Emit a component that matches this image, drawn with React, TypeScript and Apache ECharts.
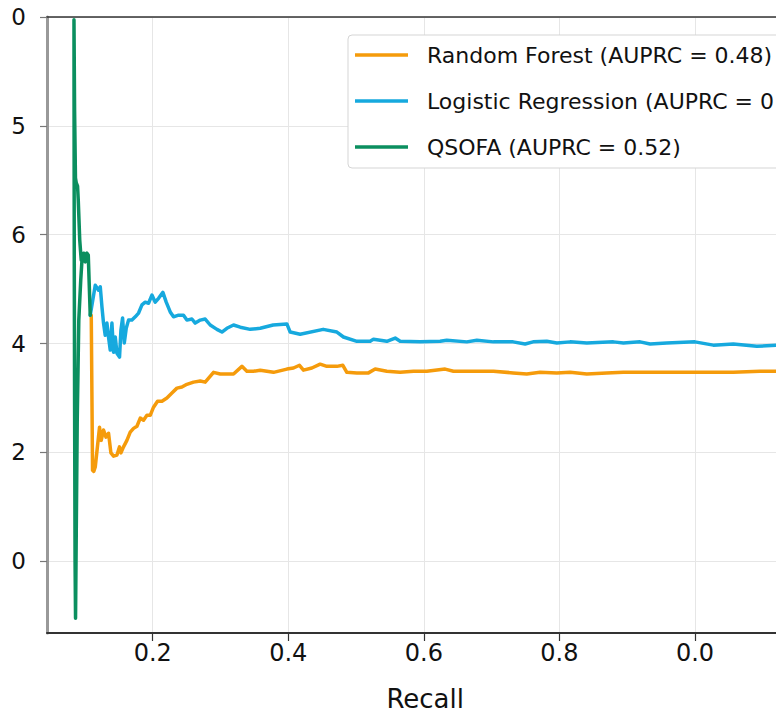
import React, { useEffect, useRef } from "react";
import * as echarts from "echarts";

const seriesNames = [
  "Random Forest (AUPRC = 0.48)",
  "Logistic Regression (AUPRC = 0",
  "QSOFA (AUPRC = 0.52)",
];
const seriesColors = ["#F59B0B", "#16A9DE", "#0B8F5F"];

const recallTicks = [0.2, 0.4, 0.6, 0.8, 1.0];
const recallTickLabels = ["0.2", "0.4", "0.6", "0.8", "0.0"];
const precisionTicks = [0, 0.2, 0.4, 0.6, 0.8, 1.0];
const precisionTickLabels = ["0", "2", "4", "6", "5", "0"];

// [recall, precision]
const rfCurve = [
  [0.1093, 0.452], [0.1112, 0.167], [0.113, 0.165], [0.1152, 0.173], [0.1215, 0.246],
  [0.124, 0.222], [0.1274, 0.241], [0.131, 0.228], [0.1348, 0.235], [0.1383, 0.199],
  [0.1422, 0.193], [0.1472, 0.195], [0.151, 0.21], [0.1531, 0.199], [0.1569, 0.21],
  [0.1619, 0.222], [0.1668, 0.237], [0.1717, 0.244], [0.1767, 0.248], [0.1816, 0.263],
  [0.1864, 0.259], [0.1914, 0.268], [0.1963, 0.268], [0.2012, 0.283], [0.2071, 0.294],
  [0.2136, 0.294], [0.2209, 0.3], [0.2283, 0.309], [0.2357, 0.318], [0.2431, 0.32],
  [0.2504, 0.325], [0.2602, 0.329], [0.2701, 0.331], [0.2774, 0.329], [0.2897, 0.347],
  [0.2996, 0.344], [0.3192, 0.344], [0.3316, 0.358], [0.3389, 0.349], [0.3487, 0.349],
  [0.3586, 0.351], [0.3782, 0.347], [0.3979, 0.353], [0.4077, 0.355], [0.4165, 0.36],
  [0.4224, 0.351], [0.4348, 0.355], [0.447, 0.362], [0.4569, 0.358], [0.4717, 0.358],
  [0.4805, 0.36], [0.4864, 0.347], [0.5012, 0.346], [0.5183, 0.346], [0.5282, 0.353],
  [0.5454, 0.349], [0.565, 0.347], [0.5847, 0.349], [0.6044, 0.349], [0.6314, 0.353],
  [0.6437, 0.349], [0.6732, 0.349], [0.7027, 0.349], [0.7317, 0.346], [0.7519, 0.344],
  [0.7715, 0.347], [0.7962, 0.346], [0.8158, 0.347], [0.8404, 0.344], [0.8699, 0.346],
  [0.8944, 0.347], [0.919, 0.347], [0.9485, 0.347], [0.9681, 0.347], [0.9976, 0.347],
  [1.0174, 0.347], [1.0566, 0.347], [1.096, 0.349], [1.1255, 0.349], [1.16, 0.349],
];

const lrCurve = [
  [0.1078, 0.452], [0.1152, 0.507], [0.1201, 0.498], [0.1226, 0.504], [0.1251, 0.467],
  [0.1274, 0.4375], [0.1299, 0.415], [0.1324, 0.4375], [0.1348, 0.412], [0.1373, 0.388],
  [0.1398, 0.4375], [0.1422, 0.384], [0.1447, 0.412], [0.1472, 0.382], [0.151, 0.375],
  [0.1531, 0.425], [0.1555, 0.447], [0.158, 0.401], [0.1609, 0.428], [0.1643, 0.443],
  [0.1693, 0.443], [0.1742, 0.449], [0.1791, 0.456], [0.1841, 0.471], [0.1889, 0.476],
  [0.1938, 0.474], [0.1988, 0.489], [0.2037, 0.476], [0.2086, 0.483], [0.215, 0.494],
  [0.2199, 0.476], [0.2258, 0.458], [0.2307, 0.449], [0.2381, 0.452], [0.2454, 0.452],
  [0.2504, 0.443], [0.2578, 0.445], [0.2627, 0.4375], [0.2701, 0.443], [0.2774, 0.445],
  [0.2848, 0.434], [0.2947, 0.426], [0.3021, 0.421], [0.3094, 0.428], [0.3192, 0.434],
  [0.3291, 0.43], [0.3438, 0.426], [0.3586, 0.428], [0.3777, 0.434], [0.3979, 0.436],
  [0.4028, 0.421], [0.4175, 0.417], [0.4515, 0.426], [0.4717, 0.421], [0.4814, 0.412],
  [0.5012, 0.404], [0.5208, 0.404], [0.5257, 0.408], [0.5454, 0.404], [0.5577, 0.41],
  [0.565, 0.404], [0.5945, 0.403], [0.624, 0.404], [0.6339, 0.406], [0.6634, 0.403],
  [0.6782, 0.406], [0.7027, 0.403], [0.7317, 0.403], [0.7494, 0.399], [0.7612, 0.403],
  [0.7814, 0.404], [0.7962, 0.401], [0.8158, 0.403], [0.8404, 0.401], [0.8796, 0.403],
  [0.8944, 0.401], [0.919, 0.403], [0.9338, 0.399], [0.9584, 0.401], [1.0, 0.403],
  [1.0271, 0.397], [1.0566, 0.399], [1.0912, 0.395], [1.1255, 0.397], [1.16, 0.397],
];

const qsofaCurve = [
  [0.1078, 0.452], [0.1049, 0.5625], [0.1027, 0.566], [0.1004, 0.55], [0.0982, 0.566],
  [0.096, 0.561], [0.0938, 0.517], [0.0909, 0.443], [0.0886, 0.259], [0.0872, 0.057],
  [0.0861, -0.105], [0.0854, 0.002], [0.0847, 0.296], [0.0842, 0.572], [0.0839, 0.847],
  [0.0838, 0.995], [0.0847, 0.829], [0.086, 0.704], [0.0872, 0.695], [0.0891, 0.689],
  [0.0901, 0.664], [0.0923, 0.59], [0.0945, 0.553],
];

const curves = [rfCurve, lrCurve, qsofaCurve];

const FONT = "DejaVu Sans";

function pick(ticks: number[], labels: string[], v: number) {
  const i = ticks.findIndex((t) => Math.abs(t - v) < 1e-6);
  return i >= 0 ? labels[i] : "";
}

export default function App() {
  const ref = useRef<HTMLDivElement>(null);
  useEffect(() => {
    if (!ref.current) return;
    const chart = echarts.init(ref.current, undefined, { renderer: "svg" });
    chart.setOption({
      animation: false,
      backgroundColor: "#ffffff",
      grid: { left: 47, top: 17, right: 16.6, bottom: 82, outerBoundsMode: "none", containLabel: false },
      legend: {
        orient: "vertical",
        left: 348,
        top: 35,
        padding: [8, 60, 9, 7],
        itemWidth: 53,
        itemHeight: 3.5,
        itemGap: 22,
        icon: "rect",
        backgroundColor: "#ffffff",
        borderColor: "#d5d5d5",
        borderWidth: 1,
        borderRadius: 4,
        textStyle: { fontSize: 22, color: "#111", fontFamily: FONT, lineHeight: 24, padding: [0, 0, 0, 14] },
        data: seriesNames,
      },
      xAxis: [
        {
          type: "value",
          min: 0.044,
          max: 1.16,
          name: "Recall",
          nameLocation: "middle",
          nameGap: 53,
          nameTextStyle: { fontSize: 26, color: "#111", fontFamily: FONT },
          axisLine: { show: true, onZero: false, lineStyle: { color: "#333", width: 2 } },
          axisTick: { show: true, length: 8, customValues: recallTicks, lineStyle: { color: "#333", width: 1.2 } },
          axisLabel: {
            customValues: recallTicks,
            fontSize: 24,
            color: "#111",
            fontFamily: FONT,
            margin: 8,
            formatter: (v: number) => pick(recallTicks, recallTickLabels, v),
          },
          splitLine: { show: true, lineStyle: { color: "#e6e6e6", width: 1 } },
        },
        {
          type: "value",
          position: "top",
          min: 0.044,
          max: 1.16,
          axisLine: { show: true, onZero: false, lineStyle: { color: "#333", width: 1.5 } },
          axisTick: { show: false },
          axisLabel: { show: false },
          splitLine: { show: false },
        },
      ],
      yAxis: {
        type: "value",
        min: -0.132,
        max: 1.0,
        axisLine: { show: true, onZero: false, lineStyle: { color: "#999", width: 3 } },
        axisTick: { show: true, length: 7, customValues: precisionTicks, lineStyle: { color: "#777", width: 1.2 } },
        axisLabel: {
          customValues: precisionTicks,
          fontSize: 23,
          color: "#111",
          fontFamily: FONT,
          margin: 21,
          padding: [9, 0, 0, 0],
          formatter: (v: number) => pick(precisionTicks, precisionTickLabels, v),
        },
        splitLine: { show: true, lineStyle: { color: "#e6e6e6", width: 1 } },
      },
      series: curves.map((c, i) => ({
        name: seriesNames[i],
        type: "line",
        xAxisIndex: 0,
        data: c,
        symbol: "none",
        showSymbol: false,
        color: seriesColors[i],
        lineStyle: { color: seriesColors[i], width: 3.5, cap: "round", join: "round" },
        z: 2 + i,
      })),
    });
    return () => chart.dispose();
  }, []);
  return (
    <div style={{ position: "fixed", left: 0, top: 0, width: 776, height: 715, overflow: "hidden", background: "#fff" }}>
      <div ref={ref} style={{ width: 820, height: 715 }} />
    </div>
  );
}
